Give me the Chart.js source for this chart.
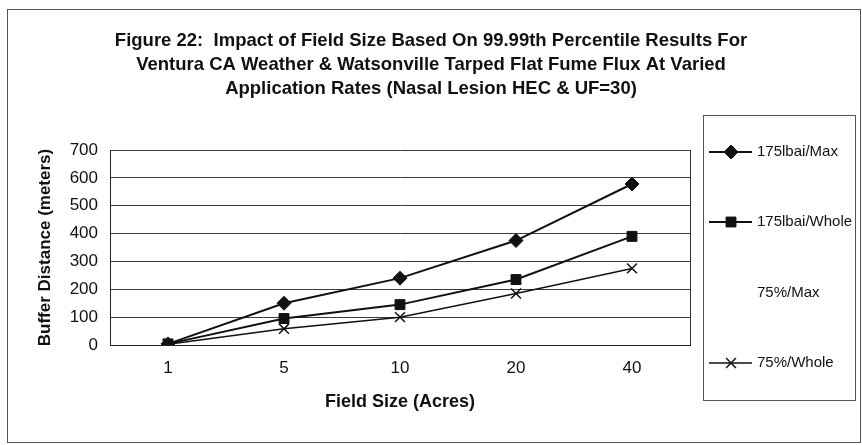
<!DOCTYPE html>
<html>
<head>
<meta charset="utf-8">
<script src="https://cdn.jsdelivr.net/npm/chart.js@4/dist/chart.umd.min.js"></script>
<style>
  body { margin: 0; background: #fff; }
  #wrap { width: 862px; height: 445px; position: relative; }
</style>
</head>
<body>
<div id="wrap"><canvas id="chart"></canvas></div>
<script>
// field sizes (acres) along the x axis
const fieldSizes = ['1', '5', '10', '20', '40'];

// buffer distances (meters)
const max175 = [4, 150, 240, 375, 578];
const whole175 = [4, 95, 145, 235, 390];
const max75 = [null, null, null, null, null]; // not visible in the figure
const whole75 = [3, 58, 100, 185, 275];

const yTicks = [0, 100, 200, 300, 400, 500, 600, 700];

const titleLines = [
    'Figure 22:  Impact of Field Size Based On 99.99th Percentile Results For',
    'Ventura CA Weather & Watsonville Tarped Flat Fume Flux At Varied',
    'Application Rates (Nasal Lesion HEC & UF=30)'
];

const FONT = "'Liberation Sans', Arial, sans-serif";

// frame around the whole figure + right edge of the plot
const framePlugin = {
    id: 'frame',
    beforeDraw(chart) {
        const ctx = chart.ctx;
        ctx.save();
        ctx.strokeStyle = '#555';
        ctx.lineWidth = 1;
        ctx.strokeRect(7.5, 9.5, 853, 433);
        ctx.restore();
    },
    afterDatasetsDraw(chart) {
        const { ctx, chartArea } = chart;
        ctx.save();
        ctx.strokeStyle = '#333';
        ctx.lineWidth = 1;
        ctx.beginPath();
        ctx.moveTo(Math.round(chartArea.right) + 0.5, chartArea.top);
        ctx.lineTo(Math.round(chartArea.right) + 0.5, chartArea.bottom);
        ctx.stroke();
        ctx.restore();
    }
};

// legend in its own tall box, entries spread out like the original
const boxLegend = {
    id: 'boxLegend',
    afterDraw(chart) {
        const ctx = chart.ctx;
        const rows = [152, 222, 293, 363];
        ctx.save();
        ctx.strokeStyle = '#555';
        ctx.lineWidth = 1;
        ctx.strokeRect(703.5, 115.5, 152, 285);
        ctx.font = '15px ' + FONT;
        ctx.textBaseline = 'middle';
        chart.data.datasets.forEach((ds, i) => {
            const y = rows[i];
            const visible = ds.data.some(v => v !== null);
            if (visible) {
                ctx.strokeStyle = ds.borderColor;
                ctx.lineWidth = ds.borderWidth;
                ctx.beginPath();
                ctx.moveTo(709, y);
                ctx.lineTo(752, y);
                ctx.stroke();
                ctx.fillStyle = ds.pointBackgroundColor;
                ctx.strokeStyle = ds.pointBorderColor;
                ctx.lineWidth = ds.pointBorderWidth;
                Chart.helpers.drawPoint(ctx, {
                    pointStyle: ds.pointStyle,
                    radius: ds.pointRadius,
                    borderWidth: ds.pointBorderWidth,
                    rotation: 0
                }, 731, y);
            }
            ctx.fillStyle = '#111';
            ctx.fillText(ds.label, 757, y);
        });
        ctx.restore();
    }
};

const ctx = document.getElementById('chart').getContext('2d');
const chart = new Chart(ctx, {
    type: 'line',
    data: {
        labels: fieldSizes,
        datasets: [{
            label: '175lbai/Max',
            data: max175,
            borderColor: '#111',
            borderWidth: 2,
            pointStyle: 'rectRot',
            pointRadius: 7,
            pointBackgroundColor: '#111',
            pointBorderColor: '#111',
            pointBorderWidth: 1,
            tension: 0
        }, {
            label: '175lbai/Whole',
            data: whole175,
            borderColor: '#111',
            borderWidth: 2,
            pointStyle: 'rect',
            pointRadius: 7,
            pointBackgroundColor: '#111',
            pointBorderColor: '#111',
            pointBorderWidth: 1,
            tension: 0
        }, {
            label: '75%/Max',
            data: max75,
            borderColor: '#f2e87a',
            borderWidth: 2,
            pointStyle: 'triangle',
            pointRadius: 6,
            pointBackgroundColor: '#f2e87a',
            pointBorderColor: '#f2e87a',
            pointBorderWidth: 1,
            tension: 0
        }, {
            label: '75%/Whole',
            data: whole75,
            borderColor: '#111',
            borderWidth: 1.5,
            pointStyle: 'crossRot',
            pointRadius: 7,
            pointBackgroundColor: '#111',
            pointBorderColor: '#111',
            pointBorderWidth: 1.5,
            tension: 0
        }]
    },
    options: {
        responsive: true,
        maintainAspectRatio: false,
        animation: false,
        layout: {
            padding: { left: 0, right: 0, top: 0, bottom: 23 }
        },
        plugins: {
            legend: { display: false },
            tooltip: { enabled: false },
            title: {
                display: true,
                text: titleLines,
                color: '#111',
                font: { family: FONT, size: 18.5, weight: 'bold', lineHeight: '24px' },
                padding: { top: 29, bottom: 49 }
            }
        },
        scales: {
            x: {
                offset: true,
                afterFit(scale) { scale.height = 77; },
                grid: { display: false, drawTicks: false },
                border: { display: true, color: '#222', width: 1 },
                ticks: {
                    color: '#111',
                    padding: 13,
                    maxRotation: 0,
                    font: { family: FONT, size: 17 }
                },
                title: {
                    display: true,
                    text: 'Field Size (Acres)',
                    color: '#111',
                    font: { family: FONT, size: 18, weight: 'bold' },
                    padding: { top: 0, bottom: 9 }
                }
            },
            y: {
                min: 0,
                max: 700,
                afterFit(scale) { scale.width = 110; },
                afterBuildTicks(scale) {
                    scale.ticks = yTicks.map(v => ({ value: v }));
                },
                grid: { color: '#3a3a3a', lineWidth: 1, drawTicks: false },
                border: { display: true, color: '#222', width: 1 },
                ticks: {
                    color: '#111',
                    padding: 12,
                    font: { family: FONT, size: 17 }
                },
                title: {
                    display: true,
                    text: 'Buffer Distance (meters)',
                    color: '#111',
                    font: { family: FONT, size: 17, weight: 'bold' },
                    padding: { top: 35, bottom: 0 }
                }
            },
            // empty right-hand axis that only reserves room for the legend box
            yRight: {
                position: 'right',
                min: 0,
                max: 700,
                afterFit(scale) { scale.width = 172; },
                grid: { display: false, drawTicks: false },
                border: { display: false },
                ticks: { display: false }
            }
        }
    },
    plugins: [framePlugin, boxLegend]
});
</script>
</body>
</html>
